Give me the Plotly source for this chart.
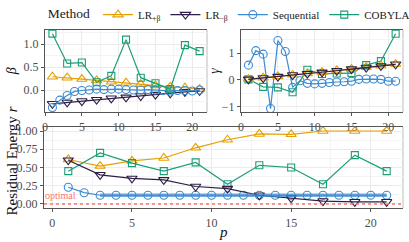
import plotly.graph_objects as go

# ---------------- data ----------------
P_ODD = [1, 3, 5, 7, 9, 11, 13, 15, 17, 19, 21]
P_ALL = list(range(1, 22))

# beta panel
beta_lrp = [0.29, 0.27, 0.24, 0.21, 0.18, 0.16, 0.13, 0.10, 0.07, 0.05, 0.02]
beta_lrm = [-0.30, -0.27, -0.24, -0.21, -0.18, -0.16, -0.13, -0.10, -0.07, -0.04, -0.02]
beta_seq = [-0.38, -0.22, -0.12, -0.03, -0.01, 0.0, 0.02, 0.01, 0.02, 0.02, 0.01,
            0.0, 0.0, 0.01, 0.0, -0.01, -0.02, -0.01, -0.01, -0.02, 0.0]
beta_cob = [1.23, 0.58, 0.60, 0.17, 0.31, 1.10, 0.27, 0.15, 0.02, 0.98, 0.85]

# gamma panel
gamma_lrp = [0.03, 0.08, 0.13, 0.19, 0.24, 0.29, 0.35, 0.41, 0.47, 0.53, 0.59]
gamma_lrm = [0.02, 0.07, 0.12, 0.18, 0.23, 0.28, 0.34, 0.40, 0.46, 0.52, 0.58]
gamma_seq = [0.55, 1.09, 0.96, -1.07, 1.47, 1.06, -0.28, -0.03, -0.13, -0.15, -0.13,
             -0.10, -0.08, -0.07, -0.05, 0.02, 0.03, 0.03, 0.02, -0.05, -0.05]
gamma_cob = [0.02, -0.26, -0.28, -0.46, 0.38, 0.22, 0.24, 0.25, 0.55, 0.70, 1.72]

# residual energy panel
res_lrp = [0.61, 0.52, 0.59, 0.63, 0.77, 0.88, 0.96, 0.955, 1.0, 1.0, 1.0]
res_lrm = [0.60, 0.40, 0.35, 0.33, 0.24, 0.21, 0.12, 0.08, 0.04, 0.03, 0.03]
res_seq = [0.23, 0.155, 0.12, 0.12, 0.12, 0.12, 0.12, 0.12, 0.12, 0.12, 0.12,
           0.12, 0.12, 0.12, 0.12, 0.12, 0.12, 0.12, 0.12, 0.12, 0.12]
res_cob = [0.45, 0.70, 0.56, 0.45, 0.57, 0.27, 0.53, 0.50, 0.27, 0.67, 0.45]

OPTIMAL = 0.0
OPTIMAL_LABEL_POS = (0.5, 0.12)

METHODS = ["LR<sub>+β</sub>", "LR<sub>−β</sub>", "Sequential", "COBYLA"]
COLORS = ["#E69F00", "#2E1E47", "#3C8AD0", "#1A9E77"]
SYMBOLS = ["triangle-up-open", "triangle-down-open", "circle-open", "square-open"]
SIZES = [9, 9, 8, 7]

FONT = "Liberation Serif"
GRID = "#EBEBEB"
MINOR = "#F4F4F4"
AXC = "#555555"

fig = go.Figure()

series = [
    # (xaxis, yaxis, x, y, method index)
    ("x", "y", P_ODD, beta_lrp, 0),
    ("x", "y", P_ODD, beta_lrm, 1),
    ("x", "y", P_ALL, beta_seq, 2),
    ("x", "y", P_ODD, beta_cob, 3),
    ("x2", "y2", P_ALL, gamma_seq, 2),
    ("x2", "y2", P_ODD, gamma_cob, 3),
    ("x2", "y2", P_ODD, gamma_lrp, 0),
    ("x2", "y2", P_ODD, gamma_lrm, 1),
    ("x3", "y3", P_ODD, res_lrp, 0),
    ("x3", "y3", P_ODD, res_cob, 3),
    ("x3", "y3", P_ALL, res_seq, 2),
    ("x3", "y3", P_ODD, res_lrm, 1),
]

shown = set()
for xa, ya, xs, ys, m in series:
    fig.add_trace(go.Scatter(
        x=xs, y=ys, xaxis=xa, yaxis=ya, mode="lines+markers",
        name=METHODS[m], legendgroup=METHODS[m], legendrank=m,
        showlegend=m not in shown,
        line=dict(color=COLORS[m], width=1.2),
        marker=dict(symbol=SYMBOLS[m], size=SIZES[m], color=COLORS[m],
                    line=dict(width=1.1, color=COLORS[m])),
    ))
    shown.add(m)

# thick band for the converged sequential values
fig.add_trace(go.Scatter(
    x=P_ALL[2:], y=res_seq[2:], xaxis="x3", yaxis="y3", mode="lines",
    showlegend=False, hoverinfo="skip",
    line=dict(color=COLORS[2], width=3.5), opacity=0.7,
))

# optimal line
fig.add_shape(type="line", xref="x3 domain", yref="y3", x0=0, x1=1,
              y0=OPTIMAL, y1=OPTIMAL,
              line=dict(color="#F8766D", width=1.5, dash="dot"))
fig.add_annotation(x=OPTIMAL_LABEL_POS[0], y=OPTIMAL_LABEL_POS[1], xref="x3", yref="y3",
                   text="optimal", showarrow=False,
                   font=dict(family=FONT, size=10, color="#F8766D"))

# light right borders
for xd, yd in [("x domain", "y domain"), ("x2 domain", "y2 domain"), ("x3 domain", "y3 domain")]:
    fig.add_shape(type="line", xref=xd, yref=yd, x0=1, x1=1, y0=0, y1=1,
                  line=dict(color="#BBBBBB", width=1), layer="below")

# axis titles as annotations (placed in the margins)
titles = [
    ("<i>β</i>", -0.088, 0.77, -90, 14),
    ("<i>γ</i>", 0.476, 0.77, -90, 14),
    ("Residual Energy <i>r</i>", -0.089, 0.262, -90, 15),
    ("<i>p</i>", 0.5, -0.135, 0, 15),
]
for txt, xp, yp, ang, sz in titles:
    fig.add_annotation(x=xp, y=yp, xref="paper", yref="paper", text=txt,
                       showarrow=False, textangle=ang, xanchor="center", yanchor="middle",
                       font=dict(family=FONT, size=sz, color="#111111"))

def xax(domain, rng):
    return dict(domain=domain, range=rng, tickvals=[0, 5, 10, 15, 20], automargin=False,
                showgrid=True, gridcolor=GRID, gridwidth=1,
                minor=dict(tickvals=[2.5, 7.5, 12.5, 17.5], showgrid=True, gridcolor=MINOR, ticks=""),
                showline=True, linecolor=AXC, linewidth=1.2, mirror=True,
                ticks="outside", ticklen=3, tickcolor=AXC,
                tickfont=dict(family=FONT, size=12, color="#4D4D4D"), zeroline=False)

def yax(domain, rng, tv, fmt, minor, anchor):
    return dict(domain=domain, range=rng, tickvals=tv, tickformat=fmt, anchor=anchor,
                automargin=False,
                showgrid=True, gridcolor=GRID, gridwidth=1,
                minor=dict(tickvals=minor, showgrid=True, gridcolor=MINOR, ticks=""),
                showline=True, linecolor=AXC, linewidth=1.2,
                ticks="outside", ticklen=3, tickcolor=AXC,
                tickfont=dict(family=FONT, size=12, color="#4D4D4D"), zeroline=False)

fig.update_layout(
    width=409, height=242,
    margin=dict(l=44, r=6, t=30, b=34, autoexpand=False),
    plot_bgcolor="white", paper_bgcolor="white",
    font=dict(family=FONT, size=12, color="#222222"),
    xaxis=xax([0.003, 0.454], [0, 22]),
    yaxis=yax([0.539, 1.0], [-0.48, 1.31], [0.0, 0.5, 1.0], ".1f", [-0.25, 0.25, 0.75, 1.25], "x"),
    xaxis2=dict(xax([0.549, 1.0], [0, 22]), anchor="y2"),
    yaxis2=yax([0.539, 1.0], [-1.2, 1.86], [-1, 0, 1], "d", [-0.5, 0.5, 1.5], "x2"),
    xaxis3=dict(xax([0.0, 1.0], [-0.525, 22.025]), anchor="y3"),
    yaxis3=yax([0.0, 0.455], [-0.055, 1.055], [0, 0.25, 0.5, 0.75, 1.0], ".2f",
               [0.125, 0.375, 0.625, 0.875], "x3"),
    legend=dict(orientation="h", x=0.005, xanchor="left", y=1.005, yanchor="bottom",
                title=dict(text="Method", font=dict(family=FONT, size=13.5, color="#222222")),
                font=dict(family=FONT, size=11, color="#222222"),
                bgcolor="rgba(0,0,0,0)", itemwidth=30, tracegroupgap=0),
    showlegend=True,
)

fig.write_html("out.html", config={"displayModeBar": False},
               post_script="document.body.style.margin='0';")
